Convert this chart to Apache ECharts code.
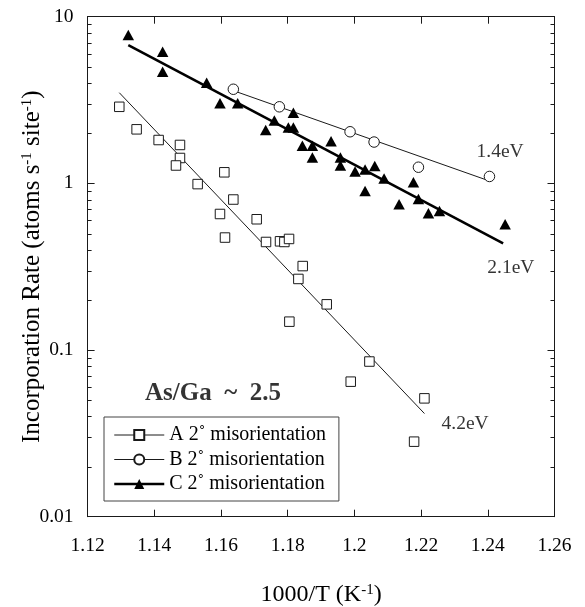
<!DOCTYPE html>
<html>
<head>
<meta charset="utf-8">
<script src="https://cdn.jsdelivr.net/npm/echarts@6/dist/echarts.min.js"></script>
<style>
html,body{margin:0;padding:0;background:#fff;}
#c{width:585px;height:607px;}
</style>
</head>
<body>
<div id="c"></div>
<script>
// ---- data ----
const X_MIN = 1.12, X_MAX = 1.26;
const Y_MIN = 0.01, Y_MAX = 10;
const yTickLabels = {0.01: '0.01', 0.1: '0.1', 1: '1', 10: '10'};
const minorTicks = [0.02,0.03,0.04,0.05,0.06,0.07,0.08,0.09,0.2,0.3,0.4,0.5,0.6,0.7,0.8,0.9,2,3,4,5,6,7,8,9];

const nameA = 'A 2\u02da misorientation';
const nameB = 'B 2\u02da misorientation';
const nameC = 'C 2\u02da misorientation';

const seriesA_x = [1.1295,1.1347,1.1413,1.1477,1.1477,1.1465,1.1530,1.1610,1.1637,1.1597,1.1707,1.1612,1.1735,1.1777,1.1790,1.1804,1.1845,1.1832,1.1917,1.1805,1.1989,1.2045,1.2210,1.2179];
const seriesA_y = [2.88,2.11,1.82,1.70,1.42,1.28,0.99,1.165,0.80,0.655,0.609,0.473,0.445,0.449,0.445,0.464,0.319,0.267,0.188,0.148,0.0646,0.0853,0.0513,0.0282];

const seriesB_x = [1.1637,1.1775,1.1987,1.2059,1.2192,1.2405];
const seriesB_y = [3.67,2.88,2.04,1.77,1.25,1.10];

const seriesC_x = [1.1322,1.1425,1.1425,1.1557,1.1597,1.1650,1.1817,1.1760,1.1734,1.1802,1.1817,1.1844,1.1874,1.1874,1.1930,1.1958,1.1958,1.2002,1.2032,1.2061,1.2089,1.2032,1.2134,1.2177,1.2192,1.2222,1.2255,1.2452];
const seriesC_y = [7.77,6.17,4.68,4.02,3.02,3.02,2.65,2.38,2.09,2.16,2.16,1.68,1.68,1.43,1.79,1.43,1.28,1.18,1.21,1.27,1.07,0.90,0.749,1.015,0.806,0.661,0.683,0.568];

// Arrhenius fit lines (end points)
const fitA_x = [1.1295, 1.2210], fitA_y = [3.50, 0.0416];
const fitB_x = [1.1637, 1.2397], fitB_y = [3.60, 1.047];
const fitC_x = [1.1322, 1.2446], fitC_y = [6.76, 0.437];

// annotations
const annText = ['1.4eV', '2.1eV', '4.2eV'];
const annX = [1.2437, 1.2469, 1.2332];
const annY = [1.54, 0.309, 0.036];
const noteText = 'As/Ga  ~  2.5';
const noteX = 1.1576, noteY = 0.055;

// ---- chart ----
const zip = (xs, ys) => xs.map((x, i) => [x, ys[i]]);
const INK = '#1a1a1a';
const FONT = '"Liberation Serif", "Times New Roman", serif';

const chart = echarts.init(document.getElementById('c'), null, {renderer: 'canvas'});

const axisCommon = {
  axisLine: {show: true, lineStyle: {color: INK, width: 1}},
  splitLine: {show: false}
};

const option = {
  animation: false,
  backgroundColor: '#fff',
  textStyle: {fontFamily: FONT, color: '#000'},
  grid: {left: 87.6, right: 30.5, top: 16.7, bottom: 90.3, containLabel: false, outerBoundsMode: 'none'},
  legend: {
    orient: 'vertical',
    left: 104, top: 417,
    padding: [8, 13, 7, 9],
    itemWidth: 50, itemHeight: 12.5, itemGap: 4.5,
    borderColor: '#444', borderWidth: 1,
    backgroundColor: '#fff',
    selectedMode: false,
    textStyle: {fontFamily: FONT, fontSize: 20, lineHeight: 20, color: '#000'},
    lineStyle: {color: INK, opacity: 1, type: 'solid'},
    data: [
      {name: nameA, lineStyle: {width: 1, color: INK, opacity: 1}},
      {name: nameB, lineStyle: {width: 1, color: INK, opacity: 1}},
      {name: nameC, lineStyle: {width: 2.5, color: '#000', opacity: 1}}
    ]
  },
  xAxis: [
    Object.assign({}, axisCommon, {
      type: 'value', position: 'bottom', min: X_MIN, max: X_MAX, interval: 0.02,
      axisTick: {show: true, inside: true, length: 7, lineStyle: {color: INK}},
      axisLabel: {show: true, margin: 19, fontFamily: FONT, fontSize: 19.5, color: '#000',
        formatter: v => String(Math.round(v * 100) / 100)},
      name: '{a|1000/T (K}{s|-1}{a|)}',
      nameLocation: 'middle', nameGap: 66, nameMoveOverlap: false,
      nameTextStyle: {rich: {
        a: {fontFamily: FONT, fontSize: 24, color: '#000'},
        s: {fontFamily: FONT, fontSize: 15, color: '#000', padding: [0, 0, 10, 0]}
      }}
    }),
    Object.assign({}, axisCommon, {
      type: 'value', position: 'top', min: X_MIN, max: X_MAX, interval: 0.02,
      axisTick: {show: true, inside: true, length: 7, lineStyle: {color: INK}},
      axisLabel: {show: false}
    })
  ],
  yAxis: [
    Object.assign({}, axisCommon, {
      type: 'log', logBase: 10, position: 'left', min: Y_MIN, max: Y_MAX, interval: 1,
      axisTick: {show: true, inside: true, length: 7, lineStyle: {color: INK}},
      axisLabel: {show: true, margin: 14, fontFamily: FONT, fontSize: 19.5, color: '#000',
        padding: [6, 0, 0, 0],
        formatter: v => yTickLabels[Number(v.toPrecision(3))] || String(v)},
      name: '{a|Incorporation Rate (atoms s}{s|-1}{a| site}{s|-1}{a|)}',
      nameLocation: 'middle', nameGap: 42, nameMoveOverlap: false,
      nameTextStyle: {rich: {
        a: {fontFamily: FONT, fontSize: 25, color: '#000'},
        s: {fontFamily: FONT, fontSize: 15, color: '#000', padding: [0, 0, 11, 0]}
      }}
    }),
    Object.assign({}, axisCommon, {
      type: 'log', logBase: 10, position: 'right', min: Y_MIN, max: Y_MAX, interval: 1,
      axisTick: {show: true, inside: true, length: 7, lineStyle: {color: INK}},
      axisLabel: {show: false}
    })
  ],
  series: [
    // minor ticks of the log axes (left and right)
    {
      type: 'custom', silent: true, clip: false, z: 1,
      data: minorTicks.map(v => [X_MIN, v]),
      renderItem: function (params, api) {
        const v = api.value(1);
        const pl = api.coord([X_MIN, v]);
        const pr = api.coord([X_MAX, v]);
        const y = Math.round(pl[1]) + 0.5;
        return {type: 'group', children: [
          {type: 'line', shape: {x1: pl[0], y1: y, x2: pl[0] + 4, y2: y}, style: {stroke: INK, lineWidth: 1}},
          {type: 'line', shape: {x1: pr[0], y1: y, x2: pr[0] - 4, y2: y}, style: {stroke: INK, lineWidth: 1}}
        ]};
      }
    },
    // fit lines
    {type: 'line', data: zip(fitA_x, fitA_y), symbol: 'none', lineStyle: {color: INK, width: 1}, z: 2, silent: true},
    {type: 'line', data: zip(fitB_x, fitB_y), symbol: 'none', lineStyle: {color: INK, width: 1}, z: 2, silent: true},
    {type: 'line', data: zip(fitC_x, fitC_y), symbol: 'none', lineStyle: {color: '#000', width: 2.6}, z: 2, silent: true},
    // data points
    {name: nameA, type: 'line', data: zip(seriesA_x, seriesA_y), symbol: 'rect', symbolSize: 9.5, showSymbol: true,
      lineStyle: {width: 0, opacity: 0}, itemStyle: {color: '#fff', borderColor: INK, borderWidth: 1}, z: 3},
    {name: nameB, type: 'line', data: zip(seriesB_x, seriesB_y), symbol: 'circle', symbolSize: 10.5, showSymbol: true,
      lineStyle: {width: 0, opacity: 0}, itemStyle: {color: '#fff', borderColor: INK, borderWidth: 1}, z: 3},
    {name: nameC, type: 'line', data: zip(seriesC_x, seriesC_y), symbol: 'triangle', symbolSize: [11.5, 10.5], showSymbol: true,
      lineStyle: {width: 0, opacity: 0}, itemStyle: {color: '#000', borderWidth: 0}, z: 3},
    // annotations
    {type: 'scatter', silent: true, symbolSize: 0, itemStyle: {color: 'rgba(0,0,0,0)'}, z: 4,
      data: annText.map((t, i) => ({name: t, value: [annX[i], annY[i]]})),
      label: {show: true, position: 'inside', formatter: p => p.name,
        fontFamily: FONT, fontSize: 19.5, color: '#000'}},
    {type: 'scatter', silent: true, symbolSize: 0, itemStyle: {color: 'rgba(0,0,0,0)'}, z: 4,
      data: [{name: noteText, value: [noteX, noteY]}],
      label: {show: true, position: 'inside', formatter: p => p.name,
        fontFamily: FONT, fontSize: 25, fontWeight: 'bold', color: '#000'}}
  ]
};
chart.setOption(option);
</script>
</body>
</html>
